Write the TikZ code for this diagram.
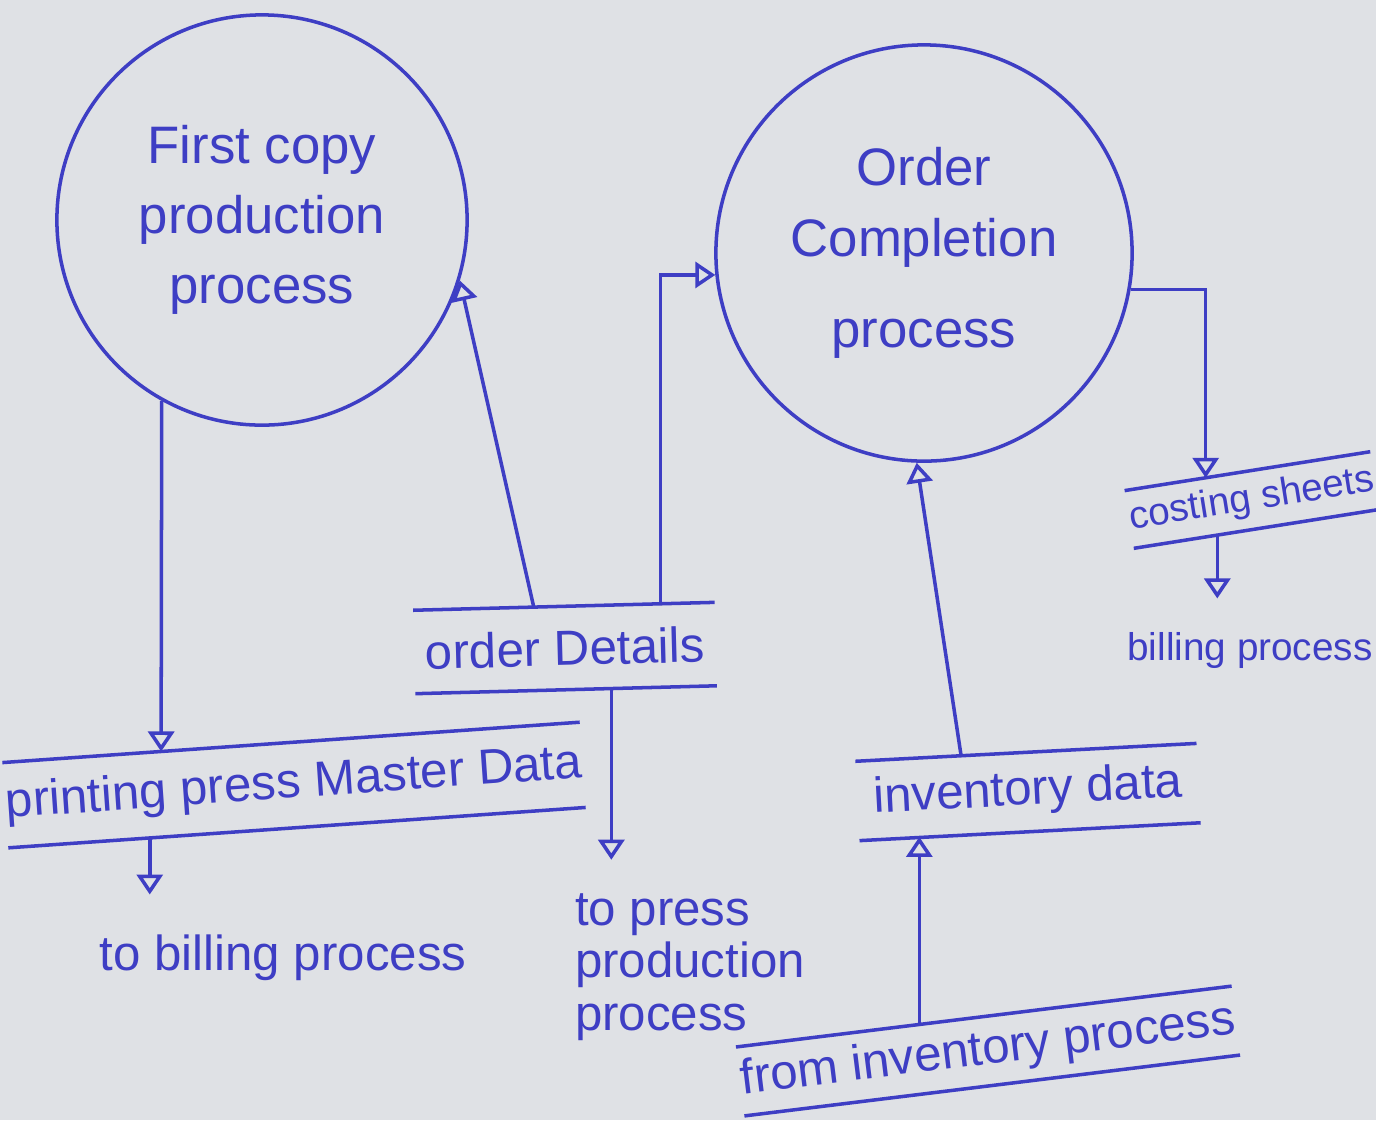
\documentclass[tikz,border=0pt]{standalone}
\usepackage{fontspec}
\setmainfont{Liberation Sans}
\usetikzlibrary{arrows.meta,calc}
\definecolor{ink}{RGB}{62,62,196}
\definecolor{paper}{RGB}{223,225,229}
\begin{document}
\begin{tikzpicture}[x=0.01cm,y=-0.01cm,
  every node/.style={text=ink, font=\fontsize{14}{15}\selectfont},
  small/.style={font=\fontsize{11}{13}\selectfont},
  proc/.style={circle, draw=ink, line width=1pt, inner sep=0pt, minimum size=#1,
    align=center, font=\fontsize{15}{20}\selectfont},
  store/.style={inner sep=0pt},
  rule/.style={draw=ink, line width=1pt},
  flow/.style={draw=ink, line width=1pt,
    -{Triangle[open, length=0.2cm, width=0.26cm]}}]

% paper
\fill[paper] (0,0) rectangle (1376,1120);
\useasboundingbox (0,0) rectangle (1376,1120);

% processes
\node[proc=4.1cm] (p1) at (262,220) {First copy\\production\\process};
\node[proc=4.16cm] (p2) at (924,253) {Order\\Completion\\[6pt]process};

% data stores (open-ended boxes)
\node[store, minimum width=3cm, minimum height=0.82cm, rotate=1.5] (od) at (565,648) {order Details};
\node[store, minimum width=5.66cm, minimum height=0.84cm, rotate=4] (pm) at (294,785) {printing press Master Data};
\node[store, minimum width=3.4cm, minimum height=0.78cm, rotate=3] (inv) at (1028,792) {inventory data};
\node[store, small, minimum width=2.26cm, minimum height=0.57cm, rotate=9] (cost) at (1252,500) {costing sheets};
\node[store, minimum width=4.6cm, minimum height=0.68cm, rotate=7] (fip) at (988,1051) {from inventory process};
\foreach \s in {od,pm,inv,cost,fip}{
  \draw[rule] (\s.north west) -- (\s.north east);
  \draw[rule] (\s.south west) -- (\s.south east);
}

% sinks
\node (tb) at (283,958) {to billing process};
\node[align=left] (tp) at (690,967) {to press\\production\\process};
\node[small] (bp) at (1250,650) {billing process};

% attachment points on the store lines
\coordinate (odTa) at ($(od.north west)!0.40!(od.north east)$);
\coordinate (odTb) at ($(od.north west)!0.82!(od.north east)$);
\coordinate (odB)  at ($(od.south west)!0.65!(od.south east)$);
\coordinate (pmT)  at ($(pm.north west)!0.275!(pm.north east)$);
\coordinate (pmB)  at ($(pm.south west)!0.245!(pm.south east)$);
\coordinate (invT) at ($(inv.north west)!0.31!(inv.north east)$);
\coordinate (invB) at ($(inv.south west)!0.205!(inv.south east)$);
\coordinate (fipT) at ($(fip.north west)!0.37!(fip.north east)$);
\coordinate (costT) at ($(cost.north west)!0.33!(cost.north east)$);
\coordinate (costB) at ($(cost.south west)!0.34!(cost.south east)$);

% flows
\draw[flow] (p1.241.7) -- (pmT);
\draw[flow] (pmB) -- ([yshift=8pt]pmB |- tb.north);
\draw[flow] (odTa) -- (p1.-17);
\draw[flow] (odTb) |- (p2.186);
\draw[flow] (odB) -- ([yshift=6pt]odB |- tp.north);
\draw[flow] (invT) -- (p2.268);
\draw[flow] (fipT) -- (fipT |- invB);
\draw[flow] (p2.-10) -| (costT);
\draw[flow] (costB) -- ([yshift=6pt]costB |- bp.north);
\end{tikzpicture}
\end{document}
